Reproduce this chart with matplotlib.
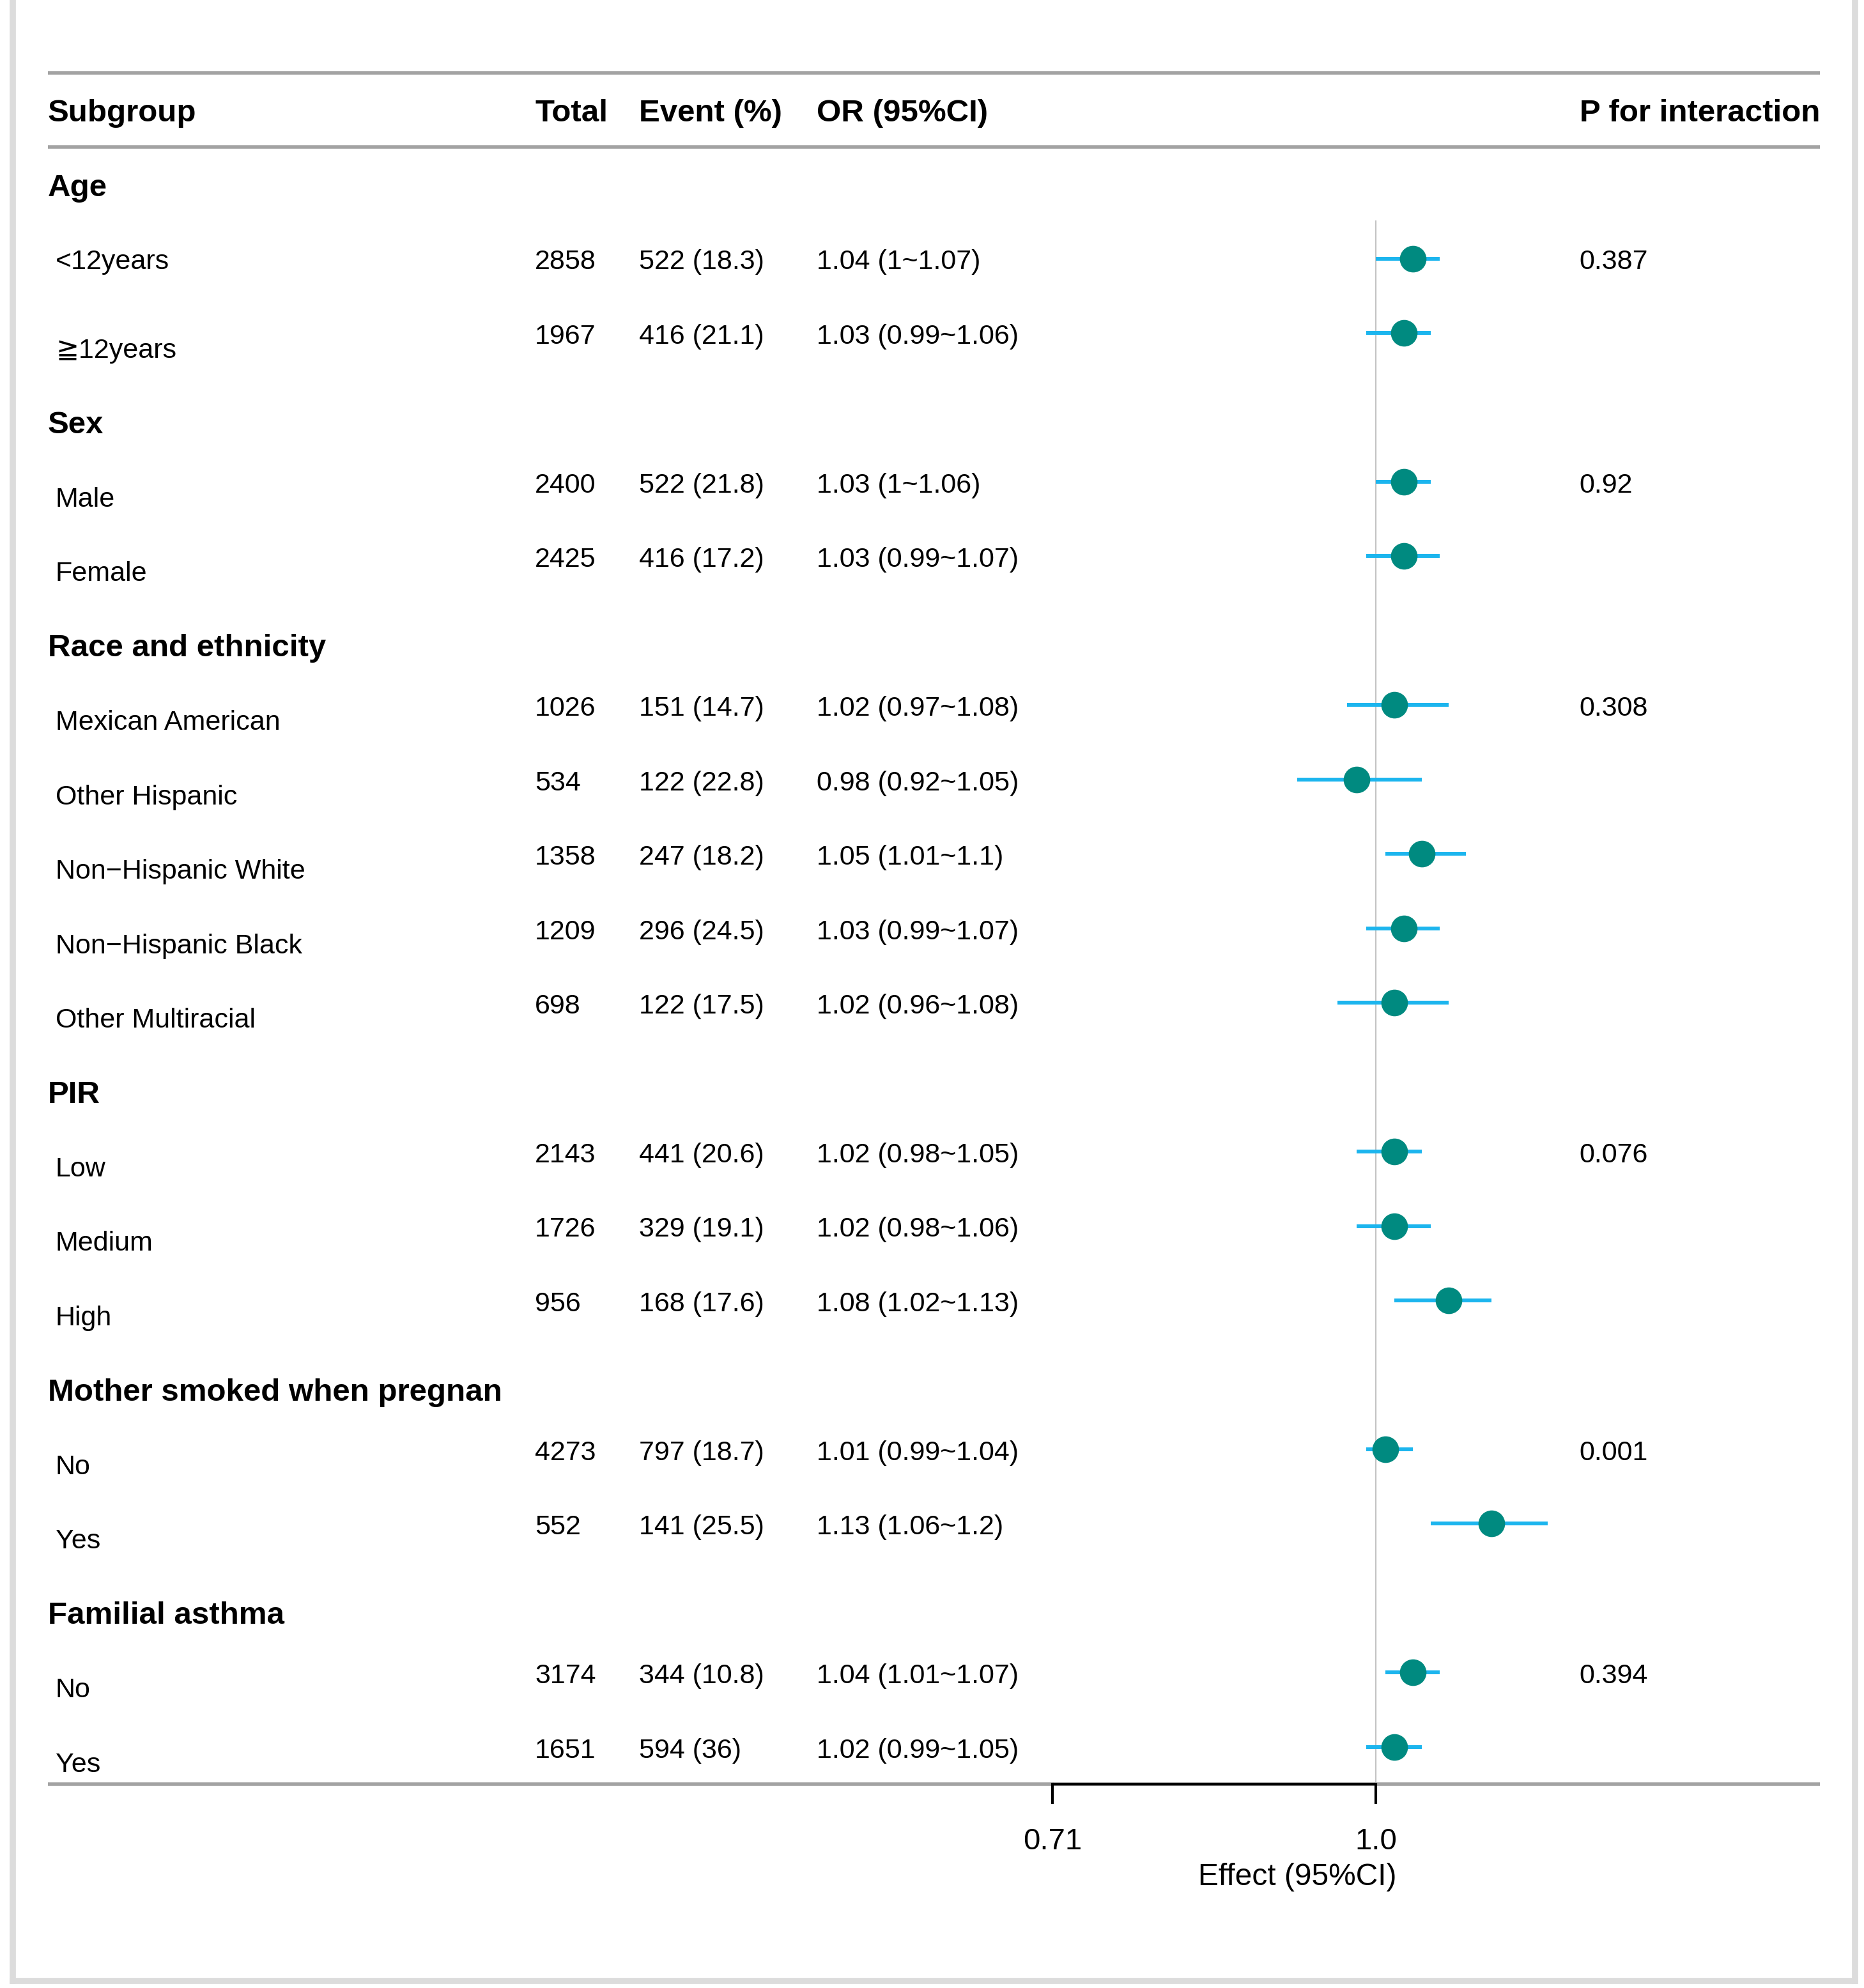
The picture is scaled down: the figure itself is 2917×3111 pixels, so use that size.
"""Subgroup forest plot: odds ratios with interaction p-values."""

import matplotlib
matplotlib.use("Agg")
import matplotlib.pyplot as plt
import numpy as np
from matplotlib.lines import Line2D

plt.rcParams["font.family"] = ["Liberation Sans", "DejaVu Sans"]

# ---- data -----------------------------------------------------------------
labels = [
    "Age", "<12years", "\u226712years",
    "Sex", "Male", "Female",
    "Race and ethnicity", "Mexican American", "Other Hispanic",
    "Non\u2212Hispanic White", "Non\u2212Hispanic Black", "Other Multiracial",
    "PIR", "Low", "Medium", "High",
    "Mother smoked when pregnan", "No", "Yes",
    "Familial asthma", "No", "Yes",
]
is_group = [True, False, False, True, False, False, True, False, False, False,
            False, False, True, False, False, False, True, False, False, True,
            False, False]

totals = [None, 2858, 1967, None, 2400, 2425, None, 1026, 534, 1358, 1209, 698,
          None, 2143, 1726, 956, None, 4273, 552, None, 3174, 1651]
events = [None, 522, 416, None, 522, 416, None, 151, 122, 247, 296, 122,
          None, 441, 329, 168, None, 797, 141, None, 344, 594]
event_pct = [None, "18.3", "21.1", None, "21.8", "17.2", None, "14.7", "22.8",
             "18.2", "24.5", "17.5", None, "20.6", "19.1", "17.6", None,
             "18.7", "25.5", None, "10.8", "36"]
or_est = [None, 1.04, 1.03, None, 1.03, 1.03, None, 1.02, 0.98, 1.05, 1.03,
          1.02, None, 1.02, 1.02, 1.08, None, 1.01, 1.13, None, 1.04, 1.02]
ci_low = [None, 1.00, 0.99, None, 1.00, 0.99, None, 0.97, 0.92, 1.01, 0.99,
          0.96, None, 0.98, 0.98, 1.02, None, 0.99, 1.06, None, 1.01, 0.99]
ci_high = [None, 1.07, 1.06, None, 1.06, 1.07, None, 1.08, 1.05, 1.10, 1.07,
           1.08, None, 1.05, 1.06, 1.13, None, 1.04, 1.20, None, 1.07, 1.05]
p_interaction = [None, "0.387", None, None, "0.92", None, None, "0.308", None,
                 None, None, None, None, "0.076", None, None, None, "0.001",
                 None, None, "0.394", None]

headers = ["Subgroup", "Total", "Event (%)", "OR (95%CI)", "P for interaction"]
x_ticks = [0.71, 1.0]
x_tick_labels = ["0.71", "1.0"]
x_label = "Effect (95%CI)"

# ---- layout (pixels of the 2917 x 3111 canvas) ----------------------------
W, H = 2917, 3111
DPI = 100
col_x = {"label": 75, "level": 87, "total": 837, "event": 1000,
         "or": 1278, "p": 2471}
line_x0, line_x1 = 75, 2848
px_ref, px_lo = 2153, 1647           # where 1.0 and 0.71 sit on the x axis
row_top, row_bottom = -2.475, 24.24  # row units covered by the canvas
text_dy = 0.05                       # text sits a hair below row centre

TEAL = "#008a80"
SKY = "#1cb5ee"
RULE = "#a3a3a3"
FS_BOLD = 35.5
FS_TEXT = 31

fig = plt.figure(figsize=(W / DPI, H / DPI), dpi=DPI)
ax = fig.add_axes([0, 0, 1, 1])
ax.set_xlim(0, W)
ax.set_ylim(row_bottom, row_top)
ax.axis("off")

# table header
header_y = -1 + text_dy
for key, head in zip(["label", "total", "event", "or"], headers[:4]):
    ax.text(col_x[key], header_y, head, fontsize=FS_BOLD,
            fontweight="bold", va="center")
ax.text(line_x1, header_y, headers[4], fontsize=FS_BOLD,
        fontweight="bold", va="center", ha="right")

n_rows = len(labels)
for y in (-1.5, -0.5, n_rows - 0.5):
    ax.plot([line_x0, line_x1], [y, y], color=RULE, lw=4,
            solid_capstyle="butt")

for i in range(n_rows):
    # the label column sits a little lower than the numbers (except first rows)
    label_y = i + text_dy if i < 2 else i + 0.19 + text_dy
    y = i + text_dy
    if is_group[i]:
        ax.text(col_x["label"], label_y, labels[i], fontsize=FS_BOLD,
                fontweight="bold", va="center")
        continue
    ax.text(col_x["level"], label_y, labels[i], fontsize=FS_TEXT, va="center")
    ax.text(col_x["total"], y, str(totals[i]), fontsize=FS_TEXT, va="center")
    ax.text(col_x["event"], y, f"{events[i]} ({event_pct[i]})",
            fontsize=FS_TEXT, va="center")
    ax.text(col_x["or"], y,
            f"{or_est[i]:g} ({ci_low[i]:g}~{ci_high[i]:g})",
            fontsize=FS_TEXT, va="center")
    if p_interaction[i]:
        ax.text(col_x["p"], y, p_interaction[i], fontsize=FS_TEXT,
                va="center")

# ---- forest panel on a log scale ------------------------------------------
fx = fig.add_axes([0, 0, 1, 1], facecolor="none")
fx.set_xscale("log")
scale = (px_ref - px_lo) / (np.log(x_ticks[1]) - np.log(x_ticks[0]))
fx.set_xlim(np.exp(np.log(x_ticks[1]) - px_ref / scale),
            np.exp(np.log(x_ticks[1]) + (W - px_ref) / scale))
fx.set_ylim(row_bottom, row_top)
fx.axis("off")

fx.plot([1.0, 1.0], [0.5, n_rows - 0.5], color="#c4c4c4", lw=1.6, zorder=1)

rows = [i for i in range(n_rows) if or_est[i] is not None]
for i in rows:
    fx.plot([ci_low[i], ci_high[i]], [i, i], color=SKY, lw=4.3,
            solid_capstyle="butt", zorder=2)
fx.plot([or_est[i] for i in rows], rows, "o", color=TEAL, ms=29,
        mec=TEAL, zorder=3)

# x axis drawn by hand so it only spans the ticks
axis_y = n_rows - 0.5
fx.plot([x_ticks[0], x_ticks[-1]], [axis_y, axis_y], color="black", lw=3,
        solid_capstyle="butt", zorder=4)
for t, lab in zip(x_ticks, x_tick_labels):
    fx.plot([t, t], [axis_y, axis_y + 0.25], color="black", lw=3, zorder=4)
    fx.text(t, axis_y + 0.77, lab, fontsize=34, ha="center", va="center")
ax.text(2030, axis_y + 1.25, x_label, fontsize=34.5, ha="center", va="center")

# faint frame of the original screenshot
frame_bottom = 1 - 3100 / H
for xs, ys in (([20 / W, 20 / W], [frame_bottom, 1.0]),
               ([2903 / W, 2903 / W], [frame_bottom, 1.0]),
               ([20 / W, 2903 / W], [frame_bottom, frame_bottom])):
    fig.add_artist(Line2D(xs, ys, color="#dcdcdc", lw=7))

fig.savefig("out.png", dpi=DPI, facecolor="white")
